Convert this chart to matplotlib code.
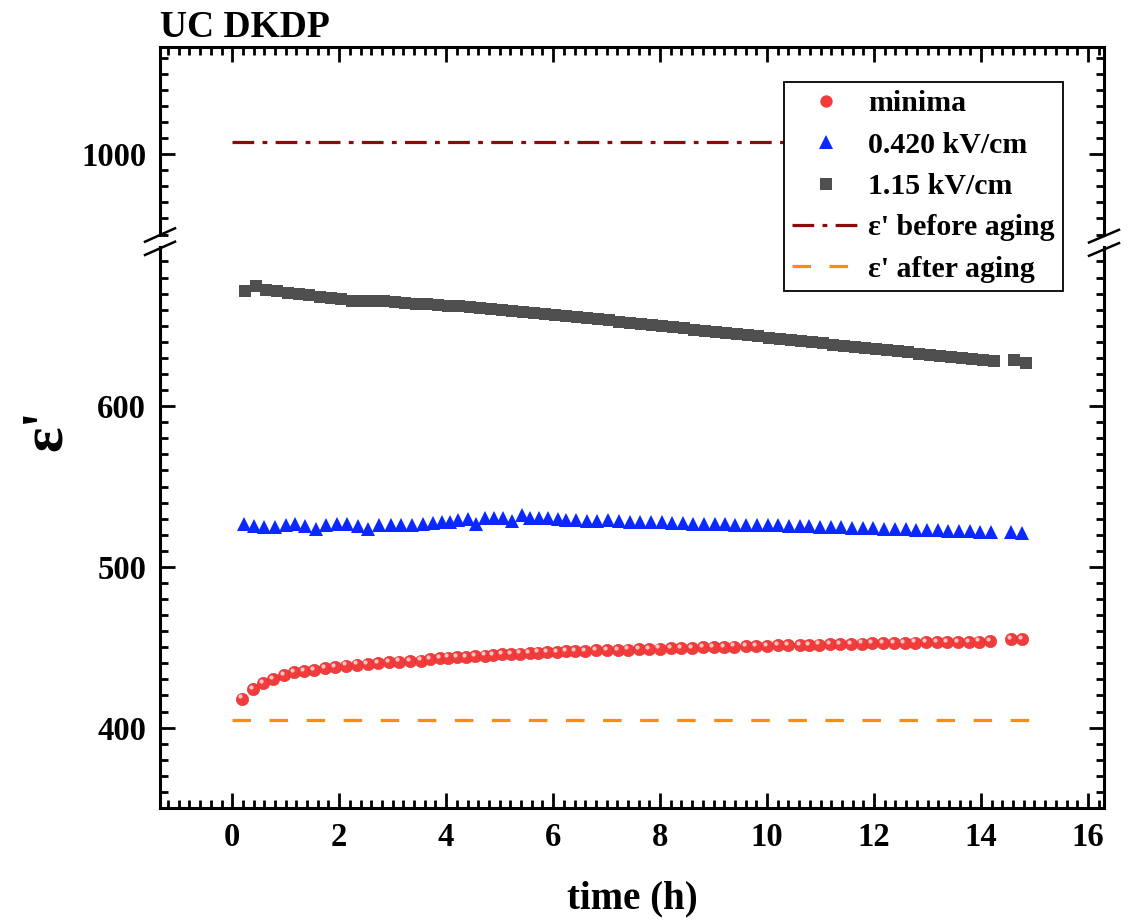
import matplotlib
matplotlib.use("Agg")
import matplotlib.pyplot as plt
from matplotlib.ticker import MultipleLocator, FixedLocator
from matplotlib.lines import Line2D
from matplotlib.transforms import offset_copy

plt.rcParams['font.family'] = ['Liberation Serif', 'DejaVu Serif']
plt.rcParams['font.weight'] = 'bold'
plt.rcParams['mathtext.default'] = 'regular'

# ---------------- data ----------------
t_min = [0.19, 0.39, 0.58, 0.77, 0.97, 1.15, 1.34, 1.53, 1.73, 1.93, 2.13, 2.34, 2.53,
         2.73, 2.93, 3.12, 3.33, 3.53, 3.70, 3.88, 4.03, 4.20, 4.37, 4.54, 4.72, 4.88,
         5.05, 5.21, 5.38, 5.56, 5.72, 5.89, 6.07, 6.24, 6.41, 6.60, 6.80, 7.01, 7.21,
         7.40, 7.60, 7.79, 7.99, 8.20, 8.40, 8.60, 8.80, 9.00, 9.19, 9.39, 9.60, 9.80,
         10.00, 10.20, 10.40, 10.61, 10.79, 10.98, 11.18, 11.37, 11.57, 11.77, 11.97,
         12.17, 12.37, 12.57, 12.77, 12.97, 13.17, 13.36, 13.57, 13.77, 13.96, 14.17,
         14.56, 14.76]
eps_min = [418.0, 424.0, 427.7, 430.2, 432.7, 434.4, 435.4, 436.0, 436.9, 437.7, 438.6,
           439.2, 439.6, 440.2, 440.6, 441.0, 441.5, 441.7, 442.5, 443.1, 443.6, 443.8,
           444.0, 444.4, 444.8, 445.2, 445.6, 445.9, 446.1, 446.3, 446.6, 446.9, 447.2,
           447.4, 447.6, 447.8, 448.0, 448.2, 448.4, 448.6, 448.8, 449.0, 449.2, 449.4,
           449.6, 449.7, 449.9, 450.1, 450.2, 450.4, 450.6, 450.7, 450.9, 451.1, 451.2,
           451.4, 451.5, 451.7, 451.8, 452.0, 452.1, 452.2, 452.4, 452.5, 452.6, 452.7,
           452.9, 453.0, 453.1, 453.2, 453.3, 453.4, 453.5, 453.7, 455.0, 455.2]

t_low = [0.22, 0.41, 0.59, 0.80, 1.00, 1.17, 1.36, 1.56, 1.76, 1.96, 2.15, 2.35, 2.54,
         2.75, 2.96, 3.16, 3.36, 3.56, 3.75, 3.92, 4.08, 4.23, 4.41, 4.56, 4.73, 4.90,
         5.07, 5.24, 5.41, 5.57, 5.74, 5.91, 6.09, 6.25, 6.43, 6.63, 6.82, 7.03, 7.23,
         7.43, 7.63, 7.83, 8.03, 8.22, 8.43, 8.62, 8.82, 9.02, 9.22, 9.41, 9.61, 9.81,
         10.01, 10.21, 10.41, 10.61, 10.79, 10.99, 11.19, 11.39, 11.59, 11.79, 11.99,
         12.19, 12.39, 12.59, 12.79, 12.99, 13.19, 13.39, 13.59, 13.79, 13.99, 14.19,
         14.56, 14.76]
eps_low = [526.9, 525.6, 524.6, 524.6, 526.3, 526.7, 525.6, 523.8, 526.3, 526.7, 526.7,
           525.6, 523.8, 526.3, 526.3, 525.8, 526.3, 526.7, 527.3, 527.7, 527.7, 528.9,
           529.5, 526.8, 530.4, 530.4, 530.4, 528.5, 532.5, 530.4, 530.4, 530.4, 529.8,
           529.4, 528.9, 528.3, 528.3, 528.9, 528.3, 527.9, 527.9, 527.7, 527.7, 527.3,
           527.3, 526.9, 526.9, 526.9, 526.9, 526.3, 526.3, 526.3, 526.3, 525.8, 525.6,
           525.6, 525.2, 525.0, 524.8, 524.6, 524.4, 524.2, 524.0, 523.8, 523.6, 523.4,
           523.2, 523.0, 522.8, 522.6, 522.4, 522.2, 522.0, 521.8, 521.5, 521.3]

t_high = [0.24, 0.44, 0.64, 0.84, 1.04, 1.24, 1.44, 1.64, 1.84, 2.04, 2.24, 2.44, 2.64,
          2.84, 3.04, 3.24, 3.44, 3.64, 3.84, 4.04, 4.24, 4.44, 4.64, 4.84, 5.04, 5.24,
          5.44, 5.64, 5.84, 6.04, 6.24, 6.44, 6.64, 6.84, 7.04, 7.24, 7.44, 7.64, 7.84,
          8.04, 8.24, 8.44, 8.64, 8.84, 9.04, 9.24, 9.44, 9.64, 9.84, 10.04, 10.24, 10.44,
          10.64, 10.84, 11.04, 11.24, 11.44, 11.64, 11.84, 12.04, 12.24, 12.44, 12.64,
          12.84, 13.04, 13.24, 13.44, 13.64, 13.84, 14.04, 14.24, 14.62, 14.84]
eps_high = [671.5, 674.6, 672.3, 671.4, 670.6, 669.9, 669.0, 668.1, 667.4, 666.9, 665.7,
            665.5, 665.6, 665.4, 664.6, 664.0, 663.6, 663.3, 662.8, 662.2, 662.0, 661.7,
            661.3, 660.5, 659.8, 659.3, 658.7, 658.0, 657.3, 656.7, 656.0, 655.3, 654.6,
            654.0, 653.3, 652.6, 651.9, 651.2, 650.5, 649.8, 649.0, 648.3, 647.6, 646.9,
            646.1, 645.4, 644.7, 644.0, 643.4, 642.6, 641.9, 641.2, 640.5, 639.8, 639.0,
            638.3, 637.6, 636.9, 636.2, 635.5, 634.8, 634.1, 633.4, 632.7, 632.0, 631.3,
            630.6, 629.9, 629.2, 628.5, 627.8, 628.4, 626.7]

t_ref = [0.0, 15.0]
eps_before = [1008.0, 1008.0]
eps_after = [405.0, 405.0]

labels = ["minima", "0.420 kV/cm", "1.15 kV/cm", "ε' before aging", "ε' after aging"]
x_ticks = [0, 2, 4, 6, 8, 10, 12, 14, 16]

# ---------------- figure ----------------
W, H = 1131, 921
fig = plt.figure(figsize=(W / 100, H / 100), dpi=100)

def fx(px):
    return px / W

def fy(py):
    return 1 - py / H

left, right = fx(160), fx(1104)
ax_bot = fig.add_axes([left, fy(808), right - left, fy(247) - fy(808)])
ax_top = fig.add_axes([left, fy(235), right - left, fy(47) - fy(235)], sharex=ax_bot)

c_red = '#f23c3c'
c_blue = '#0a28ff'
c_gray = '#4f4f4f'
c_dred = '#8b0a0a'
c_orange = '#ff8c0a'

ms_sq, ms_tri, ms_cir = 8.3, 9.6, 8.9

for ax in (ax_bot, ax_top):
    ax.plot(t_ref, eps_before, color=c_dred, lw=2.3,
            linestyle=(0, (6.8, 2.6, 1.5, 2.6)), zorder=2)
    ax.plot(t_ref, eps_after, color=c_orange, lw=2.3,
            linestyle=(0, (5.8, 5.8)), zorder=2)
    ax.plot(t_high, eps_high, 's', color=c_gray, ms=ms_sq, mec=c_gray, mew=0, zorder=3)
    ax.plot(t_low, eps_low, '^', color=c_blue, ms=ms_tri, mec=c_blue, mew=0, zorder=3)
    ax.plot(t_min, eps_min, 'o', color=c_red, ms=ms_cir, mec='#e03030', mew=0.4, zorder=4)
    hl = offset_copy(ax.transData, fig=fig, x=-1.5, y=1.6, units='points')
    ax.plot(t_min, eps_min, 'o', color='#ffc4c4', ms=3.0, mew=0, transform=hl, zorder=5)

ax_bot.set_xlim(-1.35, 16.3)
ax_bot.set_ylim(350, 699)
ax_top.set_ylim(949.7, 1067)

ax_bot.xaxis.set_major_locator(FixedLocator(x_ticks))
ax_bot.xaxis.set_minor_locator(MultipleLocator(0.2))
ax_bot.yaxis.set_major_locator(FixedLocator([400, 500, 600]))
ax_bot.yaxis.set_minor_locator(MultipleLocator(10))
ax_top.yaxis.set_major_locator(FixedLocator([1000]))
ax_top.yaxis.set_minor_locator(MultipleLocator(10))

spine_w = 2.2
for ax in (ax_bot, ax_top):
    for s in ax.spines.values():
        s.set_linewidth(spine_w)
    ax.tick_params(which='major', direction='in', length=10.5, width=2.0,
                   labelsize=23.5, pad=10)
    ax.tick_params(which='minor', direction='in', length=5.8, width=2.0)

ax_bot.spines['top'].set_visible(False)
ax_top.spines['bottom'].set_visible(False)
ax_bot.tick_params(which='both', top=False, bottom=True, left=True, right=True,
                   labelleft=True, labelbottom=True)
ax_top.tick_params(which='both', top=True, bottom=False, left=True, right=True,
                   labelleft=True, labelbottom=False, labeltop=False)
for lab in ax_bot.get_xticklabels() + ax_bot.get_yticklabels() + ax_top.get_yticklabels():
    lab.set_fontweight('bold')

ax_bot.set_xlabel('time (h)', fontsize=28, fontweight='bold', labelpad=20)

# y label and title
fig.text(fx(47), fy(430), "ε'", rotation=90, fontsize=43, fontweight='bold',
         ha='center', va='center')
fig.text(fx(160), fy(37), 'UC DKDP', fontsize=27, fontweight='bold',
         ha='left', va='baseline')

# break marks
for (x0, y0, x1, y1) in [(145, 241.7, 175, 228.3), (145, 255, 175, 241.7),
                         (1089, 242.5, 1119, 229.8), (1089, 255.8, 1119, 243.1)]:
    fig.add_artist(Line2D([fx(x0), fx(x1)], [fy(y0), fy(y1)], transform=fig.transFigure,
                          color='black', lw=1.8))

# legend
handles = [
    Line2D([], [], marker='o', ls='none', color=c_red, ms=ms_cir, mew=0),
    Line2D([], [], marker='^', ls='none', color=c_blue, ms=ms_tri, mew=0),
    Line2D([], [], marker='s', ls='none', color=c_gray, ms=ms_sq, mew=0),
    Line2D([], [], color=c_dred, lw=2.3, linestyle=(0, (6.8, 2.6, 1.5, 2.6))),
    Line2D([], [], color=c_orange, lw=2.3, linestyle=(0, (5.8, 5.8))),
]
leg = fig.legend(handles, labels, loc='upper right',
                 bbox_to_anchor=(fx(1063), fy(82)), frameon=True, fancybox=False,
                 edgecolor='black', framealpha=1, handlelength=2.3,
                 handletextpad=0.25, borderpad=0.28, labelspacing=0.48,
                 borderaxespad=0, numpoints=1, prop={'weight': 'bold', 'size': 21.5})
leg.get_frame().set_linewidth(1.3)

fig.savefig('out.png', dpi=100)
